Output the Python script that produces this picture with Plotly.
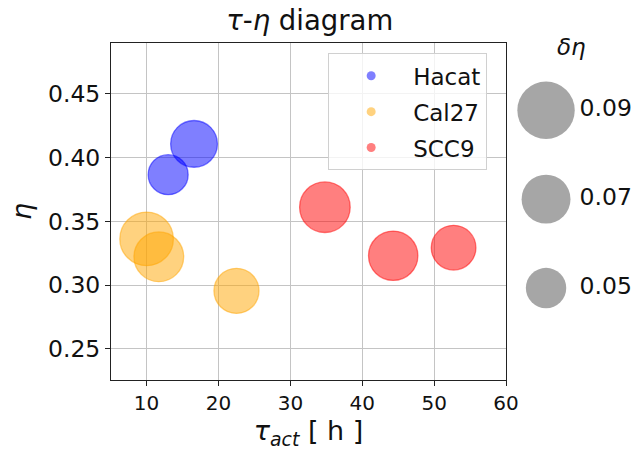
import plotly.graph_objects as go

# Activation time (h), efficiency and its spread per cell line
tau_hacat = [13.0, 16.6]
eta_hacat = [0.3865, 0.4106]
deta_hacat = [0.049, 0.065]

tau_cal27 = [10.0, 11.7, 22.5]
eta_cal27 = [0.3362, 0.3222, 0.2955]
deta_cal27 = [0.081, 0.072, 0.061]

tau_scc9 = [34.8, 44.3, 52.7]
eta_scc9 = [0.361, 0.323, 0.3293]
deta_scc9 = [0.074, 0.071, 0.060]

size_keys = [0.05, 0.07, 0.09]
size_labels = ["0.05", "0.07", "0.09"]

FONT = "DejaVu Sans"


def bubble(d):
    """Marker diameter (px) for a given spread value."""
    return 2 * (20.2 + (d - 0.05) * 212.5)


series = [
    ("Hacat", tau_hacat, eta_hacat, deta_hacat, "0,0,255"),
    ("Cal27", tau_cal27, eta_cal27, deta_cal27, "255,165,0"),
    ("SCC9", tau_scc9, eta_scc9, deta_scc9, "255,0,0"),
]

fig = go.Figure()

for name, xs, ys, ds, rgb in series:
    fig.add_trace(go.Scatter(
        x=xs, y=ys, mode="markers", showlegend=False, hoverinfo="skip",
        marker=dict(size=[bubble(d) for d in ds], sizemode="diameter",
                    opacity=1, color=f"rgba({rgb},0.5)",
                    line=dict(color=f"rgba({rgb},0.5)", width=1.3)),
    ))

# small legend keys
for i, (name, xs, ys, ds, rgb) in enumerate(series):
    fig.add_trace(go.Scatter(
        x=[None], y=[None], mode="markers", name=name, legendgroup=f"g{i}",
        marker=dict(size=9, opacity=1, color=f"rgba({rgb},0.5)",
                    line=dict(width=0)),
    ))

# size key on its own hidden axes to the right
KEY_X = 0.31
LABEL_X = 0.57
fig.add_trace(go.Scatter(
    x=[KEY_X] * len(size_keys), y=size_labels, mode="markers",
    xaxis="x2", yaxis="y2", showlegend=False, hoverinfo="skip",
    marker=dict(size=[bubble(d) for d in size_keys], opacity=1,
                color="rgba(128,128,128,0.7)", line=dict(width=0)),
))
fig.add_trace(go.Scatter(
    x=[LABEL_X] * len(size_keys), y=size_labels, mode="text", text=size_labels,
    textposition="middle right", xaxis="x2", yaxis="y2", showlegend=False,
    hoverinfo="skip", cliponaxis=False,
    textfont=dict(family=FONT, size=23.5, color="#111"),
))

PLOT_W = 395.3
PAPER_W = 635 - 110.7
main_frac = PLOT_W / PAPER_W

axis_style = dict(
    showline=True, linecolor="#222", linewidth=1, mirror=True,
    ticks="outside", ticklen=5, tickcolor="#222", tickwidth=1,
    showgrid=True, gridcolor="#c4c4c4", gridwidth=1, zeroline=False,
)

fig.update_layout(
    width=635, height=450,
    margin=dict(l=110.7, r=0, t=42.7, b=70, pad=0, autoexpand=False),
    paper_bgcolor="white", plot_bgcolor="white",
    font=dict(family=FONT, color="#111"),
    title=dict(text="<i>τ</i>-<i>η</i> diagram", font=dict(size=27.5),
               x=309.7 / 635, xanchor="center", xref="container",
               y=1 - 20 / 450, yanchor="middle", yref="container"),
    xaxis=dict(domain=[0, main_frac], range=[5.05, 60], dtick=10,
               tickfont=dict(size=20), automargin=True,
               title=dict(text="<i>τ</i><sub><i>act</i></sub> [ h ]",
                          font=dict(size=27), standoff=9),
               **axis_style),
    yaxis=dict(range=[0.2257, 0.4896], dtick=0.05, tickformat=".2f",
               tickfont=dict(size=23.5),
               title=dict(text="<i>η</i>", font=dict(size=27), standoff=8),
               **axis_style),
    xaxis2=dict(domain=[main_frac, 1], range=[0, 1], visible=False,
                anchor="y2"),
    yaxis2=dict(domain=[0, 1], range=[-1.034, 2.756], visible=False,
                anchor="x2", type="category",
                categoryorder="array", categoryarray=size_labels),
    legend=dict(x=(328 - 110.7) / PAPER_W, y=(380 - 53) / 337.3,
                xanchor="left", yanchor="top",
                bgcolor="rgba(255,255,255,0.8)", bordercolor="#d0d0d0",
                borderwidth=1, font=dict(size=23), tracegroupgap=3,
                traceorder="grouped", itemwidth=74),
    annotations=[dict(text="<i>δη</i>", xref="paper", yref="paper",
                      x=(571 - 110.7) / PAPER_W, y=(380 - 47) / 337.3,
                      xanchor="center", yanchor="middle", showarrow=False,
                      font=dict(size=23))],
)

fig.write_html("out.html")
